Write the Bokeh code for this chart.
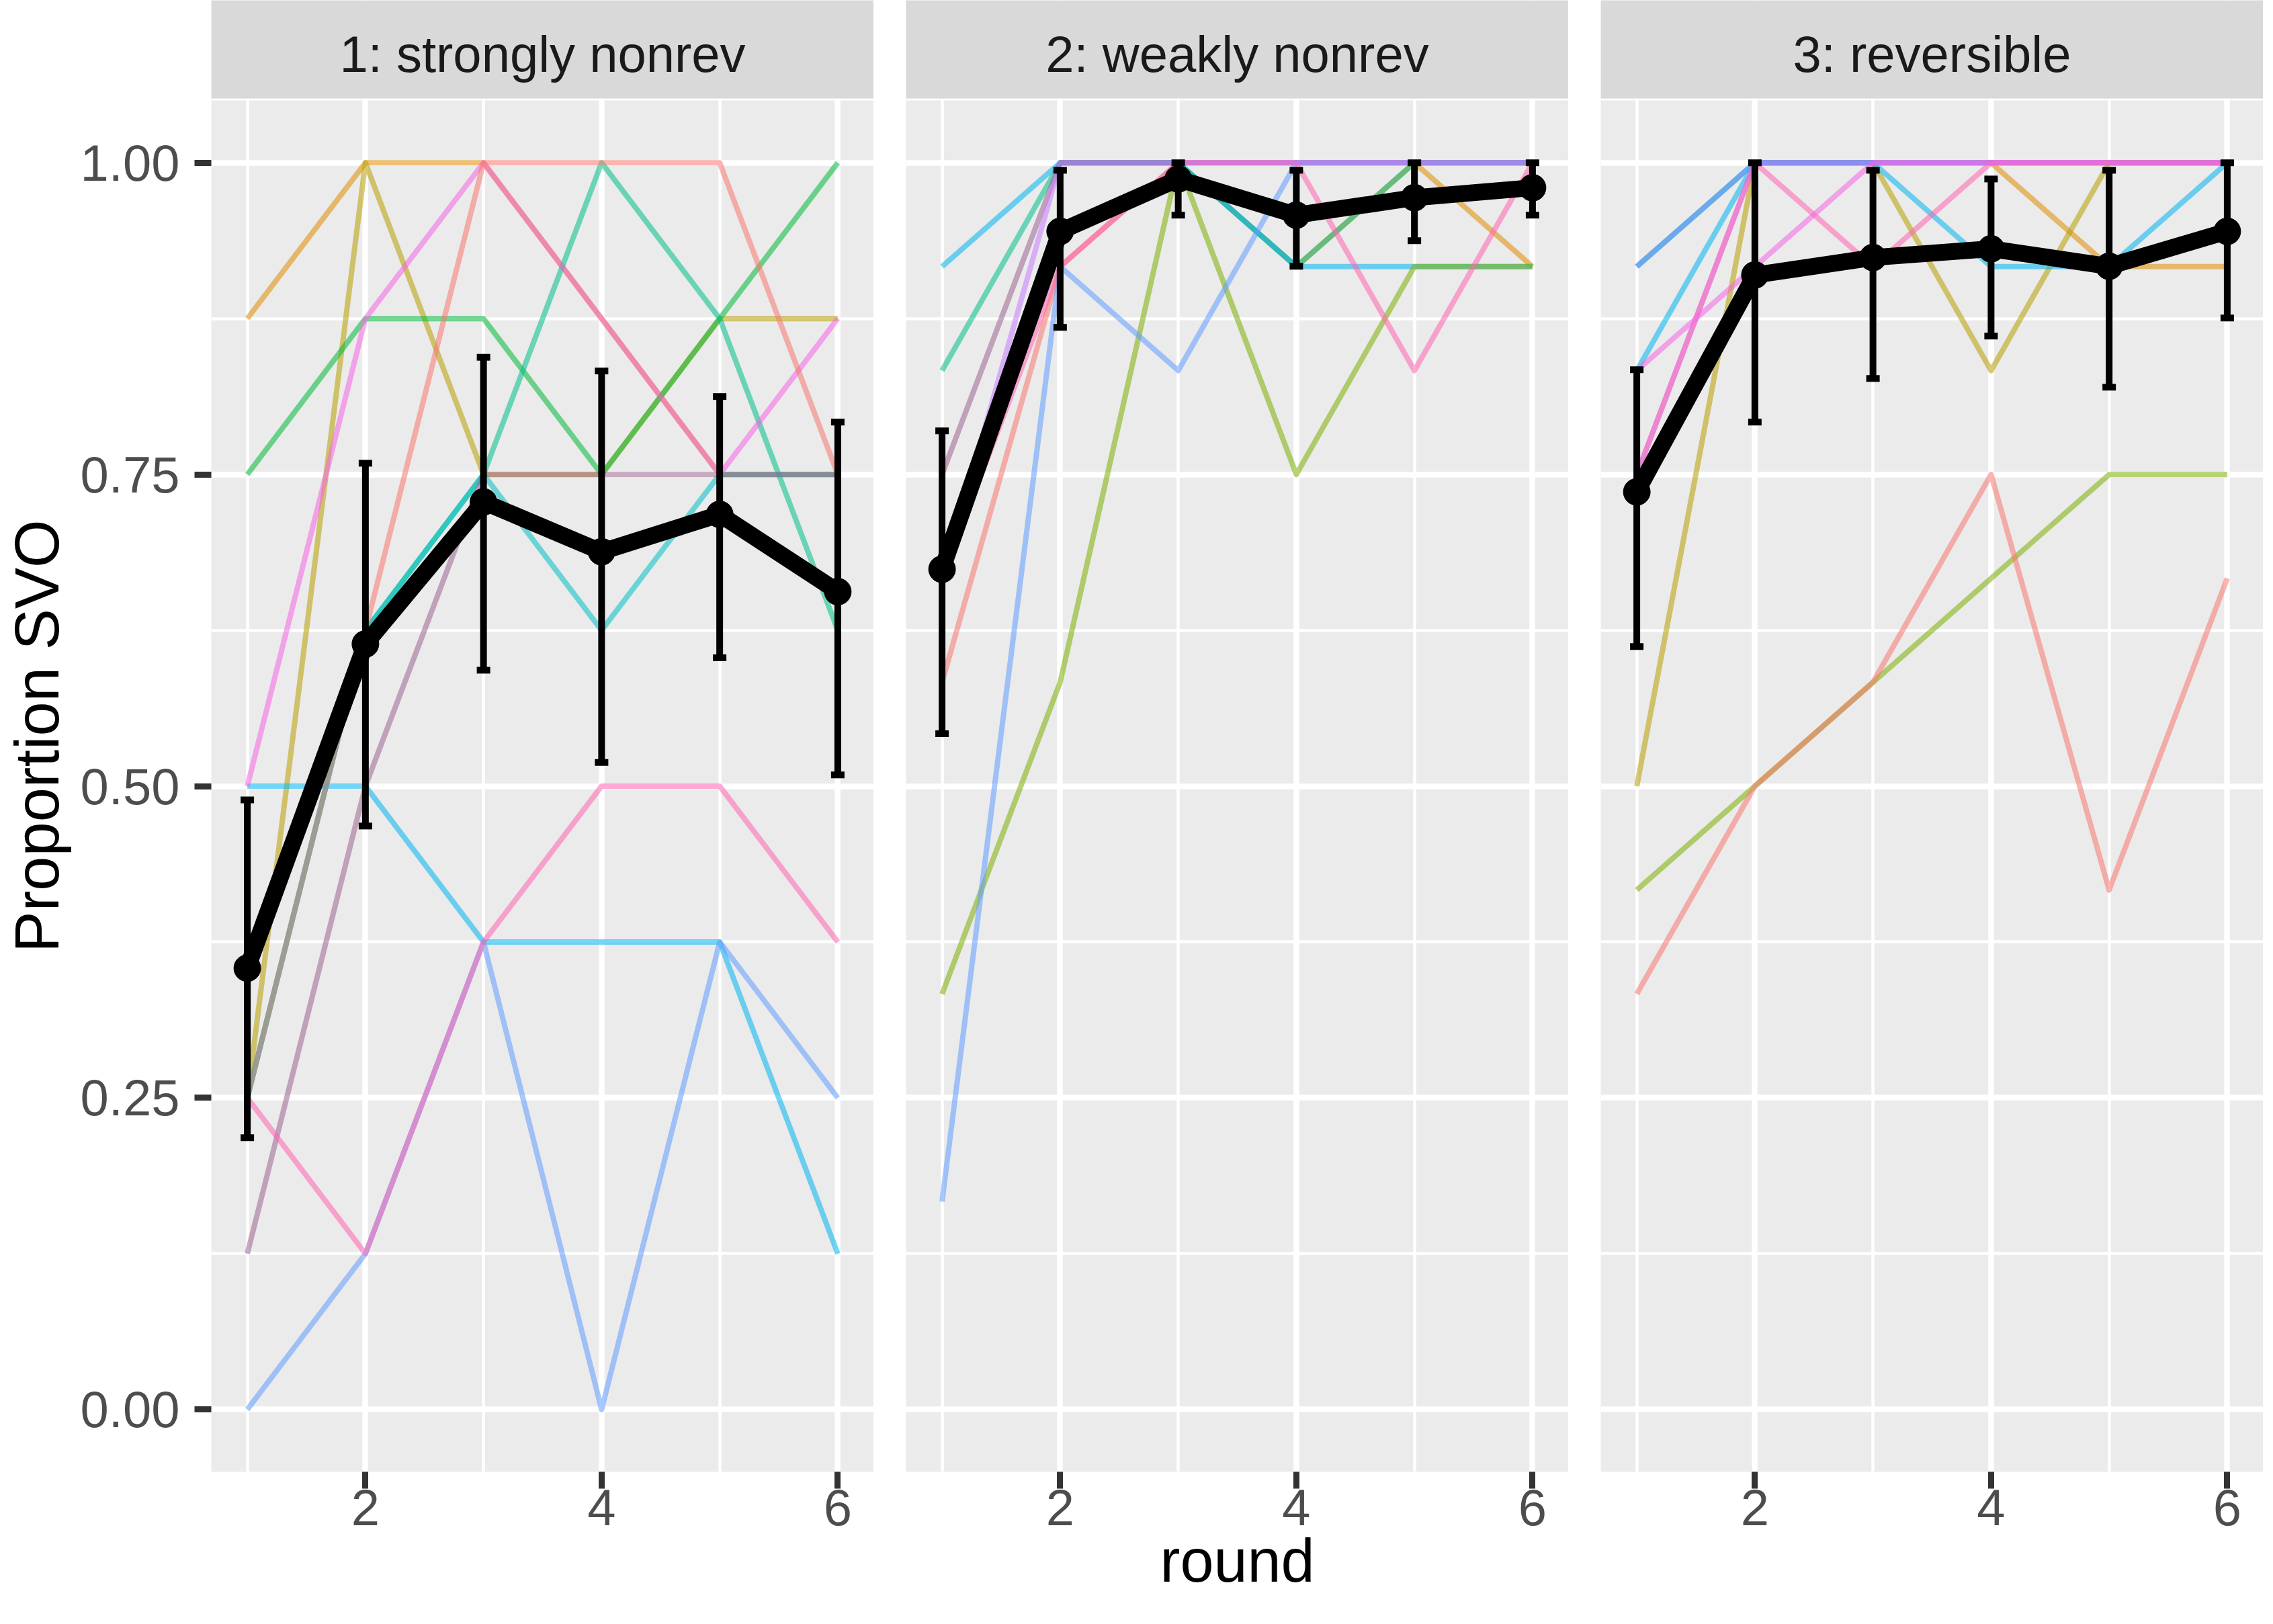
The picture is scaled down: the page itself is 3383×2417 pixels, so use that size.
import math
from bokeh.plotting import figure
from bokeh.models import (FixedTicker, NumeralTickFormatter, BoxAnnotation, Label,
                          Whisker, TeeHead, ColumnDataSource, Range1d, LinearAxis, Grid)
from bokeh.layouts import row
from bokeh.embed import file_html
from bokeh.resources import INLINE

nan = float("nan")

# ---------------- data ----------------
rounds = [1, 2, 3, 4, 5, 6]
facets = ["1: strongly nonrev", "2: weakly nonrev", "3: reversible"]

# facet 1: individual participants (proportion SVO per round)
f1_orange = [0.875, 1.0, 1.0, 0.875, 0.75, 0.75]
f1_olive = [0.25, 1.0, 0.75, 0.75, 0.875, 0.875]
f1_green = [0.75, 0.875, 0.875, 0.75, 0.875, 1.0]
f1_teal = [0.25, 0.625, 0.75, 1.0, 0.875, 0.625]
f1_turq = [0.25, 0.625, 0.75, 0.625, 0.75, 0.75]
f1_sky = [0.5, 0.5, 0.375, 0.375, 0.375, 0.125]
f1_blue = [0.0, 0.125, 0.375, 0.0, 0.375, 0.25]
f1_mauve = [0.125, 0.5, 0.75, 0.75, 0.75, 0.75]
f1_magenta = [0.5, 0.875, 1.0, 0.875, 0.75, 0.875]
f1_pink = [0.25, 0.125, 0.375, 0.5, 0.5, 0.375]
f1_salmon = [0.25, 0.625, 1.0, 1.0, 1.0, 0.75]

# facet 2
f2_cyan = [0.9167, 1.0, 1.0, 0.9167, 0.9167, 0.9167]
f2_teal = [0.8333, 1.0, 1.0, 0.9167, 1.0, 1.0]
f2_mauve = [0.75, 1.0, 1.0, 1.0, 1.0, 1.0]
f2_orange = [nan, 1.0, 1.0, 0.9167, 1.0, 0.9167]
f2_purple = [0.6667, 1.0, 1.0, 1.0, 1.0, 1.0]
f2_pink = [0.6667, 0.9167, 1.0, 1.0, 0.8333, 1.0]
f2_salmon = [0.5833, 0.9167, 1.0, 1.0, 1.0, 1.0]
f2_blue = [0.1667, 0.9167, 0.8333, 1.0, 1.0, 1.0]
f2_ygreen = [0.3333, 0.5833, 1.0, 0.75, 0.9167, 0.9167]

# facet 3
f3_steel = [0.9167, 1.0, 1.0, 1.0, 1.0, 1.0]
f3_blue = [0.9167, 1.0, 1.0, 1.0, 1.0, 1.0]
f3_sky = [0.8333, 1.0, 1.0, 0.9167, 0.9167, 1.0]
f3_magenta = [0.8333, 0.9167, 1.0, 1.0, 1.0, 1.0]
f3_pink = [0.75, 1.0, 0.9167, 1.0, 1.0, 1.0]
f3_purple = [0.75, 1.0, 1.0, 1.0, 1.0, 1.0]
f3_olive = [0.5, 1.0, 1.0, 0.8333, 1.0, 1.0]
f3_orange = [nan, 1.0, 1.0, 1.0, 0.9167, 0.9167]
f3_ygreen = [0.4167, 0.5, 0.5833, 0.6667, 0.75, 0.75]
f3_salmon = [0.3333, 0.5, 0.5833, 0.75, 0.4167, 0.6667]

# group means with error bars
mean_f1 = [0.354, 0.614, 0.728, 0.688, 0.718, 0.656]
lo_f1 = [0.218, 0.468, 0.593, 0.519, 0.603, 0.509]
hi_f1 = [0.489, 0.759, 0.844, 0.833, 0.8125, 0.792]

mean_f2 = [0.674, 0.945, 0.987, 0.958, 0.972, 0.980]
lo_f2 = [0.542, 0.868, 0.958, 0.917, 0.9375, 0.958]
hi_f2 = [0.785, 0.994, 1.0, 0.994, 1.0, 1.0]

mean_f3 = [0.736, 0.910, 0.924, 0.931, 0.917, 0.945]
lo_f3 = [0.612, 0.792, 0.827, 0.861, 0.820, 0.8755]
hi_f3 = [0.834, 1.0, 0.994, 0.987, 0.994, 1.0]

# ---------------- styles ----------------
COL = {"orange": "#DE8C00", "olive": "#B79F00", "green": "#00BA38", "teal": "#00C08B",
       "turq": "#00BFC4", "sky": "#00B4F0", "cyan": "#00B4F0", "blue": "#619CFF",
       "mauve": "#9A6590", "magenta": "#F564E3", "pink": "#FF64B0", "salmon": "#F8766D",
       "purple": "#C77CFF", "ygreen": "#7CAE00", "steel": "#1890C0"}

# drawing order (first = bottom)
facet_lines = [
    [("orange", f1_orange), ("olive", f1_olive), ("green", f1_green), ("teal", f1_teal),
     ("turq", f1_turq), ("sky", f1_sky), ("blue", f1_blue), ("mauve", f1_mauve),
     ("magenta", f1_magenta), ("pink", f1_pink), ("salmon", f1_salmon)],
    [("orange", f2_orange), ("salmon", f2_salmon), ("teal", f2_teal), ("cyan", f2_cyan),
     ("ygreen", f2_ygreen), ("mauve", f2_mauve), ("blue", f2_blue), ("pink", f2_pink),
     ("purple", f2_purple)],
    [("orange", f3_orange), ("olive", f3_olive), ("ygreen", f3_ygreen), ("salmon", f3_salmon),
     ("steel", f3_steel), ("sky", f3_sky), ("blue", f3_blue), ("purple", f3_purple),
     ("pink", f3_pink), ("magenta", f3_magenta)],
]
facet_stats = [(mean_f1, lo_f1, hi_f1), (mean_f2, lo_f2, hi_f2), (mean_f3, lo_f3, hi_f3)]

FONT = "Liberation Sans"
PANEL_W = 986
PANEL_H = 2041
STRIP_H = 146
GAP_H = 3
AXIS_AREA = 212
X0, X1 = 0.695, 6.305
Y0, Y1 = -0.05, 1.05
YPP = (Y1 - Y0) / PANEL_H
Y_TOP = Y1 + (STRIP_H + GAP_H) * YPP


def make_panel(i):
    p = figure(frame_width=PANEL_W, frame_height=PANEL_H + STRIP_H + GAP_H,
               x_range=Range1d(X0, X1), y_range=Range1d(Y0, Y_TOP),
               x_axis_type=None, y_axis_type=None,
               output_backend="svg", toolbar_location=None,
               background_fill_color="#EBEBEB", border_fill_color="white",
               min_border=0)
    p.outline_line_color = None
    p.min_border_bottom = AXIS_AREA

    xt = FixedTicker(ticks=[2, 4, 6], minor_ticks=[1, 3, 5])
    yt = FixedTicker(ticks=[0, 0.25, 0.5, 0.75, 1.0], minor_ticks=[0.125, 0.375, 0.625, 0.875])

    p.add_layout(Grid(dimension=0, ticker=xt, grid_line_color="white", grid_line_width=8.5,
                      minor_grid_line_color="white", minor_grid_line_width=4.5))
    p.add_layout(Grid(dimension=1, ticker=yt, grid_line_color="white", grid_line_width=8.5,
                      minor_grid_line_color="white", minor_grid_line_width=4.5))

    xaxis = LinearAxis(ticker=xt)
    xaxis.axis_line_color = None
    xaxis.major_tick_line_color = "#333333"
    xaxis.major_tick_line_width = 9
    xaxis.major_tick_out = 25
    xaxis.major_tick_in = 0
    xaxis.minor_tick_line_color = None
    xaxis.major_label_text_font = FONT
    xaxis.major_label_text_font_size = "76px"
    xaxis.major_label_text_color = "#4D4D4D"
    xaxis.major_label_standoff = 1
    if i == 1:
        xaxis.axis_label = "round"
        xaxis.axis_label_text_font = FONT
        xaxis.axis_label_text_font_size = "90px"
        xaxis.axis_label_text_font_style = "normal"
        xaxis.axis_label_text_color = "black"
        xaxis.axis_label_standoff = 0
    p.add_layout(xaxis, "below")

    if i == 0:
        p.min_border_left = 310
        yaxis = LinearAxis(ticker=yt, formatter=NumeralTickFormatter(format="0.00"))
        yaxis.axis_line_color = None
        yaxis.major_tick_line_color = "#333333"
        yaxis.major_tick_line_width = 9
        yaxis.major_tick_out = 25
        yaxis.major_tick_in = 0
        yaxis.minor_tick_line_color = None
        yaxis.major_label_text_font = FONT
        yaxis.major_label_text_font_size = "76px"
        yaxis.major_label_text_color = "#4D4D4D"
        yaxis.major_label_standoff = 22
        yaxis.axis_label = "Proportion SVO"
        yaxis.axis_label_text_font = FONT
        yaxis.axis_label_text_font_size = "92px"
        yaxis.axis_label_text_font_style = "normal"
        yaxis.axis_label_text_color = "black"
        yaxis.axis_label_standoff = 11
        p.add_layout(yaxis, "left")

    # individual participant lines
    for name, vals in facet_lines[i]:
        p.line(rounds, vals, line_color=COL[name], line_alpha=0.55, line_width=8,
               line_join="round")

    # group mean
    mean, lo, hi = facet_stats[i]
    src = ColumnDataSource(dict(x=rounds, m=mean, lo=lo, hi=hi))
    p.line("x", "m", source=src, line_color="black", line_width=25, line_join="round")
    p.scatter("x", "m", source=src, size=40, fill_color="black", line_color="black")
    w = Whisker(base="x", lower="lo", upper="hi", source=src, dimension="height",
                line_color="black", line_width=10, level="overlay",
                upper_head=TeeHead(size=20, line_width=10, line_color="black"),
                lower_head=TeeHead(size=20, line_width=10, line_color="black"))
    p.add_layout(w)

    # facet strip
    p.add_layout(BoxAnnotation(left=X0, right=X1, bottom=Y1, top=Y1 + GAP_H * YPP,
                               fill_color="white", fill_alpha=1, line_color=None))
    p.add_layout(BoxAnnotation(left=X0, right=X1, bottom=Y1 + GAP_H * YPP, top=Y_TOP,
                               fill_color="#D9D9D9", fill_alpha=1, line_color=None))
    p.add_layout(Label(x=(X0 + X1) / 2, y=Y_TOP - 80 * YPP, text=facets[i],
                       text_align="center", text_baseline="middle", text_font=FONT,
                       text_font_size="76px", text_color="#1A1A1A"))
    return p


panels = [make_panel(i) for i in range(3)]
layout = row(*panels, spacing=48)

with open("out.html", "w") as f:
    f.write(file_html(layout, INLINE))
